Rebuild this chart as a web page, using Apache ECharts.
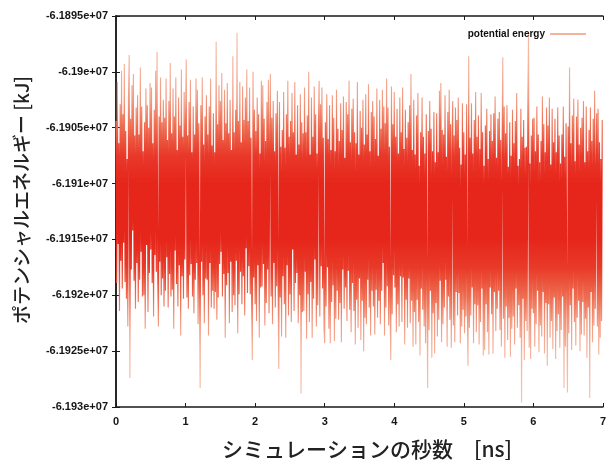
<!DOCTYPE html>
<html>
<head>
<meta charset="utf-8">
<title>potential energy</title>
<script src="https://cdn.jsdelivr.net/npm/echarts@6/dist/echarts.min.js"></script>
<style>
  html, body { margin: 0; padding: 0; background: #fff; }
  #chart { width: 609px; height: 460px; }
</style>
</head>
<body>
<div id="chart"></div>
<script>
// 出力間隔 [ns]
const sampleStepNs = 0.01;

const seriesName = 'potential energy';

// ポテンシャルエネルギー [kJ]（図から読み取り、0.01 ns ごと）
const energyKJ = [
  -61904400,-61918900,-61900900,-61915400,-61906400,-61921400,-61902900,-61916900,-61899900,-61919400,
  -61903800,-61915300,-61899300,-61918800,-61905300,-61920300,-61907800,-61922800,-61902300,-61898500,
  -61927400,-61904200,-61917700,-61901200,-61914200,-61900200,-61918700,-61905700,-61921200,-61903200,
  -61917100,-61902100,-61920600,-61905600,-61918600,-61899600,-61916100,-61903100,-61920100,-61907100,
  -61920000,-61904500,-61923000,-61901500,-61915500,-61903000,-61921500,-61905000,-61918000,-61901000,
  -61915900,-61901400,-61918900,-61906400,-61921900,-61903400,-61916400,-61899900,-61917900,-61898200,
  -61918000,-61922800,-61904000,-61917000,-61900500,-61920000,-61904500,-61918500,-61902500,-61921000,
  -61904100,-61919600,-61900600,-61916600,-61906100,-61921100,-61902600,-61918100,-61899200,-61920100,
  -61905500,-61919500,-61901500,-61923000,-61904000,-61916000,-61900500,-61919000,-61907000,-61921000,
  -61902300,-61917300,-61904800,-61923600,-61899800,-61918300,-61905800,-61920300,-61901800,-61916800,
  -61904200,-61898900,-61920200,-61905700,-61921200,-61902700,-61918200,-61900700,-61917200,-61907200,
  -61920100,-61903100,-61921600,-61905600,-61918600,-61900600,-61917100,-61901600,-61922600,-61904600,
  -61919500,-61928300,-61903000,-61917000,-61900500,-61920000,-61906500,-61922500,-61904000,-61918500,
  -61902100,-61918600,-61905600,-61923600,-61903100,-61917100,-61900600,-61921100,-61906600,-61919600,
  -61903700,-61921200,-61907200,-61919700,-61897300,-61922200,-61904700,-61920200,-61901200,-61917200,
  -61902600,-61916100,-61900100,-61920100,-61906100,-61918100,-61901600,-61923800,-61904600,-61919100,
  -61901000,-61918000,-61905500,-61922500,-61902500,-61917000,-61907000,-61921500,-61898600,-61920000,
  -61905400,-61920900,-61903400,-61916900,-61896500,-61923400,-61904400,-61919900,-61900900,-61917900,
  -61906300,-61920800,-61901300,-61918300,-61904300,-61921800,-61902300,-61915800,-61899800,-61919800,
  -61904400,-61917400,-61901400,-61919900,-61905900,-61920900,-61925800,-61900000,-61918400,-61903400,
  -61920800,-61905300,-61922300,-61902300,-61917300,-61903800,-61923800,-61907300,-61919300,-61900800,
  -61919200,-61901200,-61917200,-61904200,-61922700,-61906200,-61920700,-61902700,-61917700,-61900700,
  -61921600,-61905600,-61900200,-61920100,-61904100,-61922600,-61902600,-61917100,-61907100,-61921100,
  -61903700,-61919200,-61901700,-61918200,-61926600,-61902700,-61920200,-61906700,-61923700,-61905200,
  -61918300,-61901800,-61920800,-61906800,-61923800,-61903800,-61917300,-61900800,-61921800,-61905800,
  -61919900,-61904400,-61922400,-61901900,-61915900,-61905400,-61921400,-61900900,-61918900,-61907400,
  -61918000,-61903000,-61922500,-61906500,-61920000,-61902000,-61928800,-61904500,-61921500,-61905500,
  -61921400,-61901400,-61917900,-61905400,-61923900,-61903900,-61919900,-61900000,-61922400,-61907400,
  -61918800,-61902300,-61923800,-61905800,-61920300,-61901300,-61916800,-61903800,-61922800,-61907300,
  -61920900,-61904900,-61900800,-61921900,-61902900,-61917400,-61901400,-61919400,-61905900,-61922900,
  -61924300,-61904500,-61921000,-61902000,-61917500,-61906000,-61923000,-61903000,-61924300,-61907000,
  -61920600,-61902100,-61919100,-61904100,-61924100,-61907100,-61922100,-61901600,-61919600,-61905100,
  -61922200,-61906200,-61920700,-61902800,-61924200,-61905200,-61917700,-61902200,-61921200,-61907700,
  -61919300,-61902700,-61922300,-61903800,-61917800,-61900800,-61921300,-61906300,-61923300,-61903300,
  -61918900,-61902400,-61921400,-61905400,-61924400,-61906400,-61920400,-61900900,-61922900,-61907400,
  -61918500,-61903500,-61924000,-61905000,-61920500,-61902500,-61925000,-61906500,-61922000,-61902000,
  -61922600,-61905600,-61918600,-61901100,-61921100,-61907100,-61923600,-61903600,-61919600,-61902600,
  -61921000,-61904000,-61923500,-61906000,-61919500,-61901500,-61922000,-61907500,-61920500,-61902500,
  -61922600,-61905100,-61919600,-61901600,-61917100,-61903100,-61923600,-61904600,-61921100,-61900600,
  -61919200,-61903200,-61922700,-61906700,-61920700,-61925800,-61901300,-61921700,-61904700,-61918200,
  -61901800,-61919300,-61905800,-61923300,-61903300,-61920800,-61907300,-61922800,-61902300,-61918300,
  -61905400,-61922400,-61901400,-61918400,-61906900,-61924400,-61903400,-61920400,-61905900,-61922900,
  -61904500,-61918500,-61903000,-61922500,-61900200,-61920500,-61907000,-61924600,-61902500,-61921500,
  -61907400,-61924400,-61903900,-61920400,-61901900,-61922400,-61908400,-61925400,-61905400,-61919400,
  -61902300,-61921300,-61905800,-61922800,-61907300,-61924300,-61903800,-61919300,-61928300,-61905300,
  -61923100,-61902600,-61919600,-61905100,-61925600,-61907100,-61921600,-61903600,-61925200,-61908100,
  -61920700,-61903700,-61923700,-61907200,-61922200,-61901700,-61918700,-61901000,-61924200,-61905200,
  -61922600,-61905600,-61921100,-61902100,-61918600,-61907600,-61924600,-61903600,-61920100,-61901600,
  -61922200,-61904700,-61924700,-61907200,-61902600,-61922700,-61905700,-61924200,-61903200,-61919700,
  -61904300,-61921800,-61902300,-61919800,-61906800,-61924300,-61908300,-61922800,-61902800,-61921300,
  -61905400,-61923400,-61907400,-61921900,-61902900,-61920400,-61926300,-61898600,-61922900,-61905900,
  -61921800,-61902800,-61919300,-61907300,-61924300,-61904300,-61920800,-61901800,-61923300,-61905800,
  -61920900,-61903900,-61924400,-61906900,-61922400,-61901900,-61919400,-61905400,-61925400,-61908400,
  -61924900,-61904800,-61920800,-61903300,-61923300,-61907800,-61925300,-61905300,-61919300,-61903800,
  -61921700,-61906200,-61925200,-61903700,-61919700,-61902200,-61923200,-61907700,-61921200,-61904200,
  -61919600,-61903600,-61923100,-61906100,-61924600,-61907600,-61898700,-61922100,-61903100,-61925600,
  -61905500,-61921000,-61903000,-61924000,-61908500,-61922000,-61904500,-61925500,-61907500,-61923000,
  -61903400,-61921900,-61906400,-61924400,-61904400,-61919400,-61901900,-61922900,-61908400,-61920900,
  -61907800,-61923800,-61903300,-61929600,-61905800,-61920300,-61904300,-61925800,-61906800,-61922300,
  -61906700,-61923200,-61903200,-61896600,-61924700,-61908200,-61925700,-61905700,-61921200,-61904200,
  -61921600,-61904100,-61924600,-61907100,-61922600,-61903100,-61919600,-61905600,-61925100,-61908100,
  -61922700,-61906200,-61923700,-61902200,-61919700,-61904700,-61925200,-61907200,-61920700,-61903200,
  -61926300,-61904800,-61920800,-61902300,-61923800,-61908300,-61922300,-61903300,-61924800,-61906300,
  -61920200,-61904200,-61925700,-61907200,-61923200,-61903200,-61921700,-61905700,-61924700,-61908200,
  -61923100,-61905600,-61920100,-61903100,-61928300,-61907600,-61924600,-61904600,-61920600,-61928700,
  -61904900,-61923400,-61899600,-61920900,-61906400,-61924900,-61903900,-61919400,-61902400,-61922400,
  -61908000,-61924500,-61904000,-61922000,-61902500,-61920500,-61906500,-61925000,-61905000,-61923500,
  -61904100,-61920600,-61902600,-61923600,-61908100,-61922100,-61903100,-61925600,-61907100,-61921100,
  -61905200,-61929200,-61903200,-61919700,-61906200,-61924200,-61904200,-61922700,-61901700,-61921200,
  -61908300,-61903700,-61922800,-61903300,-61925300,-61906300,-61923800,-61907800,-61922300,-61904300
];

// 軸の目盛り
const xTicksNs = [0, 1, 2, 3, 4, 5, 6, 7];
const yMinKJ = -61930000;
const yMaxKJ = -61895000;
const yStepKJ = 5000;

// 線の色：中心付近は濃い赤、外側のスパイクは薄いサーモン
const bandColors = [
  '#f7c2ad', '#f6bba5', '#f5b39c', '#f29a80', '#ed6a4e', '#e83a28', '#e6261a', '#e6261a',
  '#e6261a', '#e8382a', '#ed6a4e', '#f29a80', '#f5b09a', '#f6b9a3', '#f7c0ab'
];

const chart = echarts.init(document.getElementById('chart'), null, { renderer: 'canvas' });

const tickFont = { fontSize: 11, fontWeight: 'bold', color: '#151515', fontFamily: '"Liberation Sans", Arial, sans-serif' };

// gnuplot 風の指数表記 (-6.1905e+07)
const fmtExp = (v) => {
  const m = (v / 1e7).toFixed(5).replace(/0+$/, '').replace(/\.$/, '');
  return m + 'e+07';
};

const frameAxis = {
  axisLine: { show: true, lineStyle: { color: '#1a1a1a', width: 1.5 } },
  axisTick: { show: true, inside: true, length: 4, lineStyle: { color: '#1a1a1a', width: 1 } },
  splitLine: { show: false }
};

const option = {
  animation: false,
  backgroundColor: '#fff',
  grid: { left: 116, right: 5, top: 16, bottom: 53 },
  legend: {
    data: [{ name: seriesName, icon: 'rect' }],
    right: 18,
    top: 24,
    align: 'right',
    itemWidth: 36,
    itemHeight: 2,
    itemStyle: { color: '#f4b39c' },
    textStyle: { fontSize: 10, fontWeight: 'bold', color: '#111', fontFamily: '"Liberation Sans", Arial, sans-serif' }
  },
  visualMap: {
    show: false,
    type: 'continuous',
    seriesIndex: 0,
    dimension: 1,
    min: yMinKJ,
    max: yMaxKJ,
    inRange: { color: bandColors }
  },
  xAxis: [
    Object.assign({
      type: 'value',
      min: xTicksNs[0],
      max: xTicksNs[xTicksNs.length - 1],
      interval: 1,
      position: 'bottom',
      axisLabel: Object.assign({ margin: 9 }, tickFont)
    }, frameAxis),
    Object.assign({
      type: 'value',
      min: xTicksNs[0],
      max: xTicksNs[xTicksNs.length - 1],
      interval: 1,
      position: 'top',
      axisLabel: { show: false }
    }, frameAxis)
  ],
  yAxis: [
    Object.assign({
      type: 'value',
      min: yMinKJ,
      max: yMaxKJ,
      interval: yStepKJ,
      position: 'left',
      axisLabel: Object.assign({ margin: 8, formatter: fmtExp }, tickFont)
    }, frameAxis),
    Object.assign({
      type: 'value',
      min: yMinKJ,
      max: yMaxKJ,
      interval: yStepKJ,
      position: 'right',
      axisLabel: { show: false }
    }, frameAxis)
  ],
  graphic: [
    {
      type: 'text',
      x: 22,
      y: 200,
      rotation: Math.PI / 2,
      style: {
        text: 'ポテンシャルエネルギー [kJ]',
        font: '500 19px "Noto Sans CJK JP"',
        fill: '#222',
        align: 'center',
        verticalAlign: 'middle'
      }
    },
    {
      type: 'text',
      x: 367,
      y: 449,
      style: {
        text: 'シミュレーションの秒数\u3000[ns]',
        font: '500 21px "Noto Sans CJK JP"',
        fill: '#222',
        align: 'center',
        verticalAlign: 'middle'
      }
    }
  ],
  series: [
    {
      name: seriesName,
      type: 'line',
      xAxisIndex: 0,
      yAxisIndex: 0,
      symbol: 'none',
      sampling: null,
      silent: true,
      lineStyle: { width: 1.15 },
      data: energyKJ.map((v, i) => [i * sampleStepNs, v])
    }
  ]
};

chart.setOption(option);
</script>
</body>
</html>
